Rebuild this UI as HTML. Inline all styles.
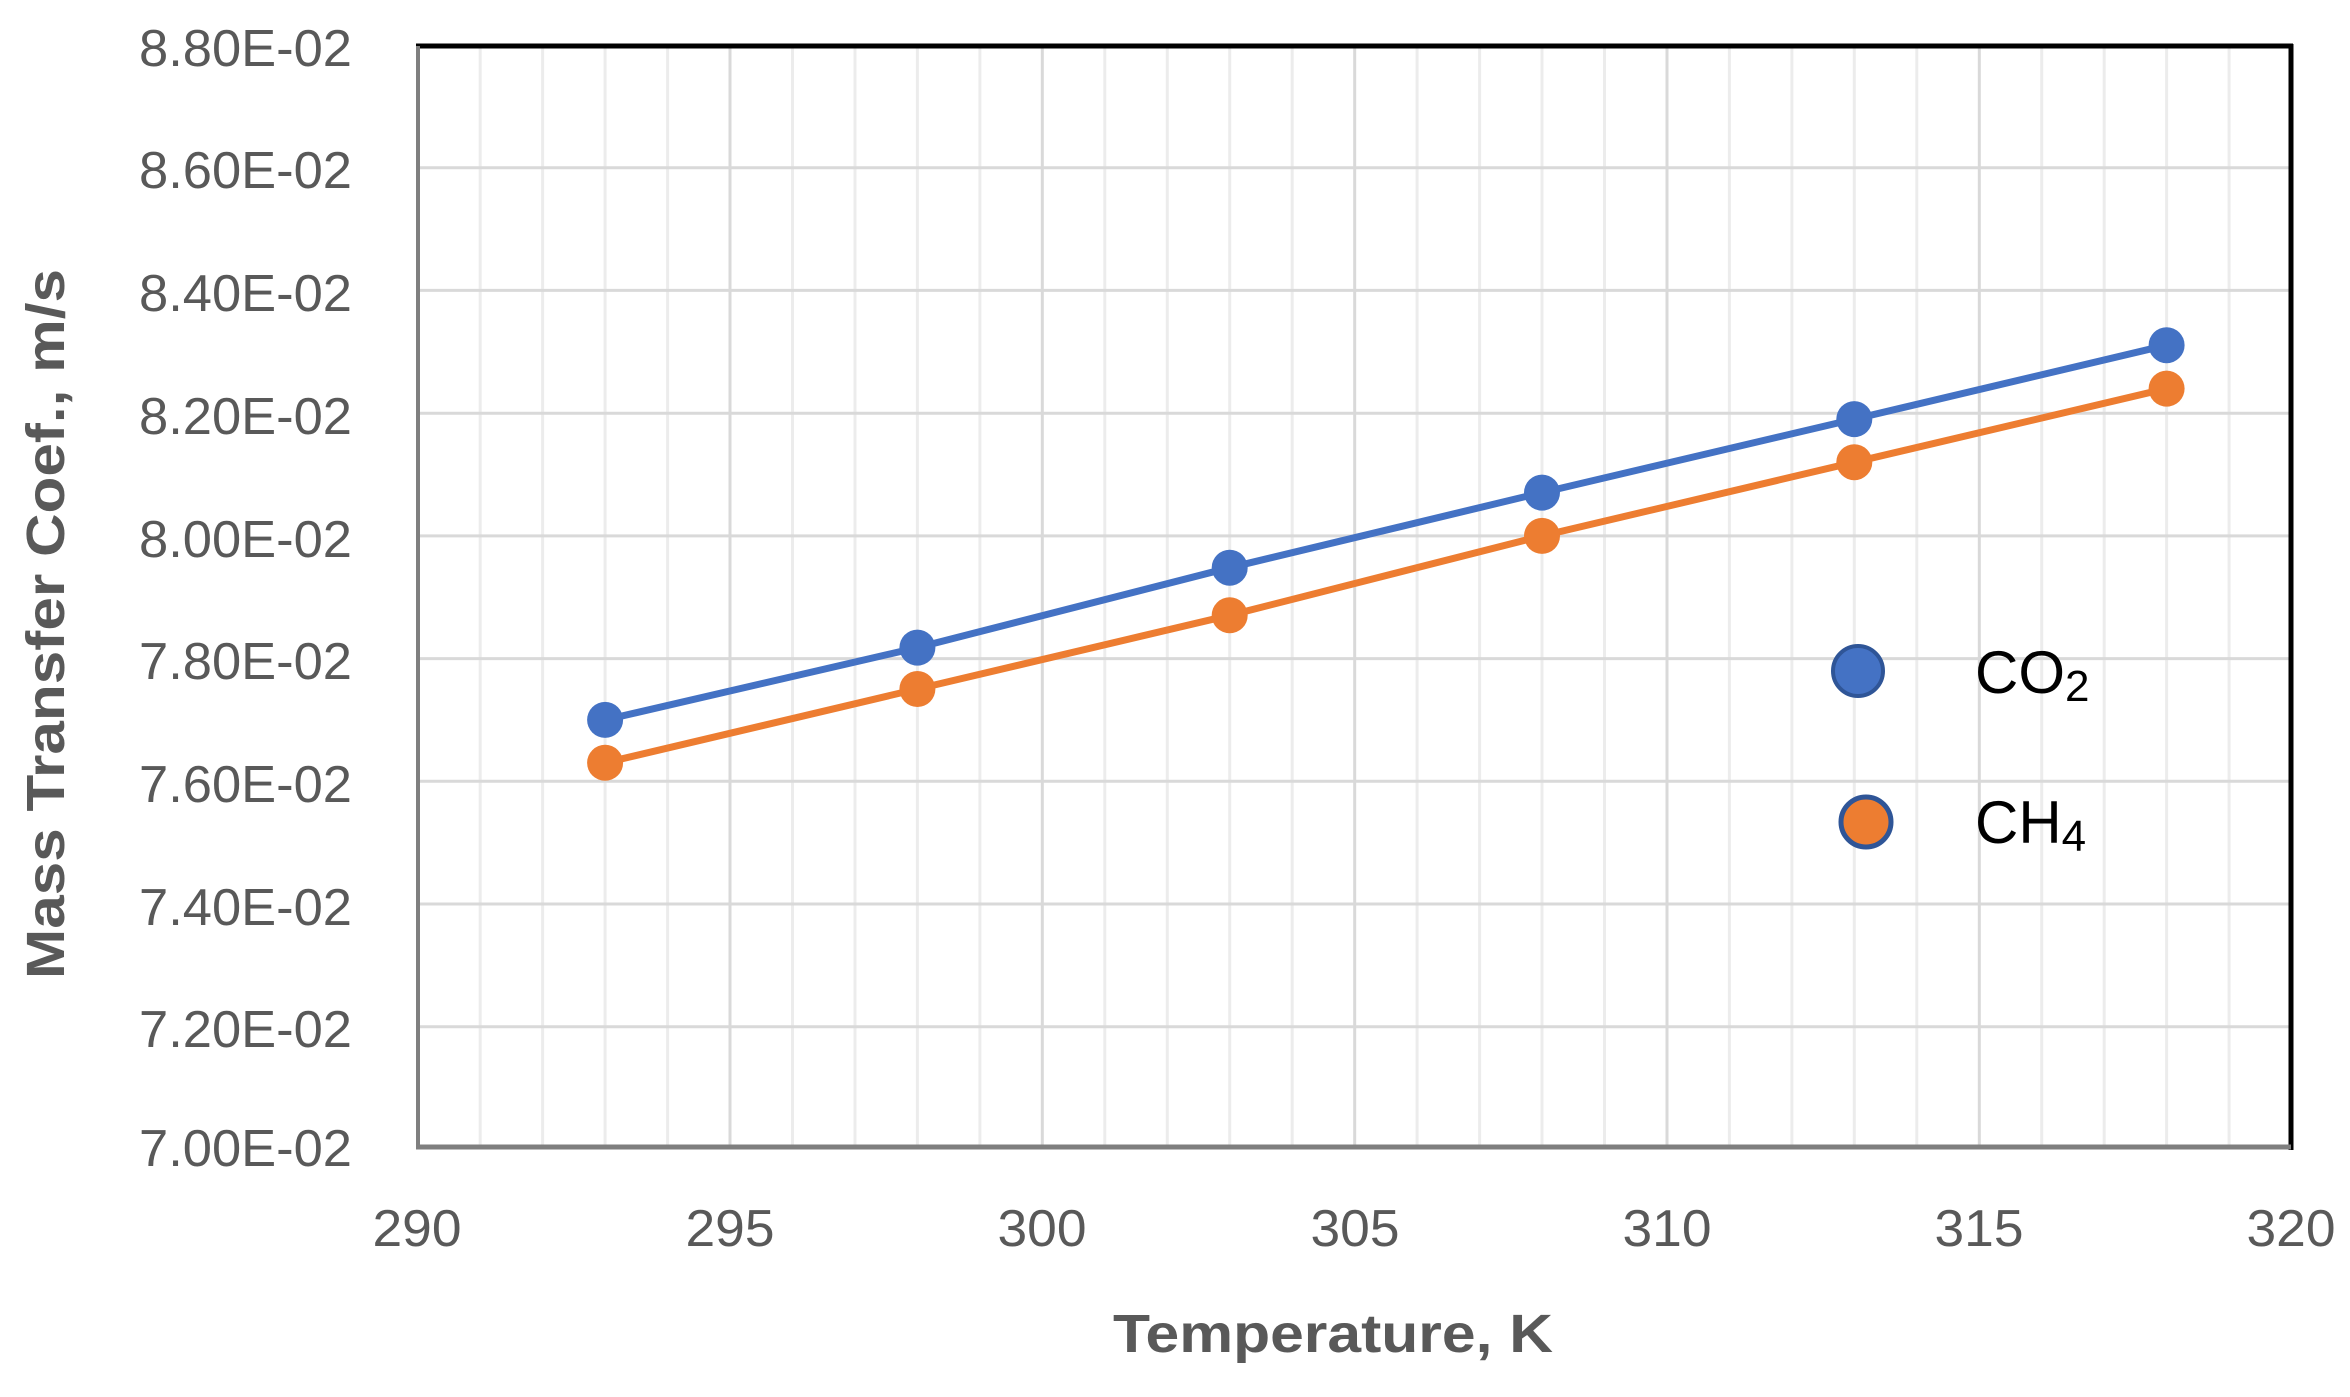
<!DOCTYPE html>
<html><head><meta charset="utf-8"><style>
html,body{margin:0;padding:0;background:#fff;}
svg{display:block;}
text{font-family:"Liberation Sans",sans-serif;}
</style></head><body>
<svg width="2350" height="1397" viewBox="0 0 2350 1397" xmlns="http://www.w3.org/2000/svg">
<rect width="2350" height="1397" fill="#fff"/>
<g id="grid">
<g stroke="#ececec" stroke-width="3">
<line x1="480.2" y1="45" x2="480.2" y2="1147"/><line x1="542.6" y1="45" x2="542.6" y2="1147"/><line x1="605.1" y1="45" x2="605.1" y2="1147"/><line x1="667.6" y1="45" x2="667.6" y2="1147"/>
<line x1="792.5" y1="45" x2="792.5" y2="1147"/><line x1="855" y1="45" x2="855" y2="1147"/><line x1="917.4" y1="45" x2="917.4" y2="1147"/><line x1="979.9" y1="45" x2="979.9" y2="1147"/>
<line x1="1104.8" y1="45" x2="1104.8" y2="1147"/><line x1="1167.3" y1="45" x2="1167.3" y2="1147"/><line x1="1229.7" y1="45" x2="1229.7" y2="1147"/><line x1="1292.2" y1="45" x2="1292.2" y2="1147"/>
<line x1="1417.1" y1="45" x2="1417.1" y2="1147"/><line x1="1479.6" y1="45" x2="1479.6" y2="1147"/><line x1="1542" y1="45" x2="1542" y2="1147"/><line x1="1604.5" y1="45" x2="1604.5" y2="1147"/>
<line x1="1729.4" y1="45" x2="1729.4" y2="1147"/><line x1="1791.9" y1="45" x2="1791.9" y2="1147"/><line x1="1854.3" y1="45" x2="1854.3" y2="1147"/><line x1="1916.8" y1="45" x2="1916.8" y2="1147"/>
<line x1="2041.7" y1="45" x2="2041.7" y2="1147"/><line x1="2104.2" y1="45" x2="2104.2" y2="1147"/><line x1="2166.6" y1="45" x2="2166.6" y2="1147"/><line x1="2229.1" y1="45" x2="2229.1" y2="1147"/>
</g>
<g stroke="#d9d9d9" stroke-width="3">
<line x1="730" y1="45" x2="730" y2="1147"/><line x1="1042.3" y1="45" x2="1042.3" y2="1147"/><line x1="1354.7" y1="45" x2="1354.7" y2="1147"/><line x1="1667" y1="45" x2="1667" y2="1147"/><line x1="1979.3" y1="45" x2="1979.3" y2="1147"/>
<line x1="418" y1="167.7" x2="2290" y2="167.7"/><line x1="418" y1="290.4" x2="2290" y2="290.4"/><line x1="418" y1="413.2" x2="2290" y2="413.2"/><line x1="418" y1="535.9" x2="2290" y2="535.9"/>
<line x1="418" y1="658.6" x2="2290" y2="658.6"/><line x1="418" y1="781.3" x2="2290" y2="781.3"/><line x1="418" y1="904" x2="2290" y2="904"/><line x1="418" y1="1026.8" x2="2290" y2="1026.8"/>
</g>
</g>
<line x1="416" y1="46" x2="2293" y2="46" stroke="#000" stroke-width="5"/>
<line x1="2291" y1="44" x2="2291" y2="1150" stroke="#000" stroke-width="5"/>
<line x1="418" y1="46" x2="418" y2="1148" stroke="#7f7f7f" stroke-width="4"/>
<line x1="416" y1="1147" x2="2291" y2="1147" stroke="#7f7f7f" stroke-width="5"/>

<polyline fill="none" stroke="#4472c4" stroke-width="7" points="605.1,719.9 917.4,647.6 1229.7,567.7 1542,492.6 1854.3,419.1 2166.6,345.2"/>
<polyline fill="none" stroke="#ed7d31" stroke-width="7" points="605.1,762.8 917.4,689 1229.7,615.3 1542,535.9 1854.3,462.2 2166.6,388.6"/>
<g fill="#4472c4">
<circle cx="605.1" cy="719.9" r="18"/><circle cx="917.4" cy="647.6" r="18"/><circle cx="1229.7" cy="567.7" r="18"/><circle cx="1542" cy="492.6" r="18"/><circle cx="1854.3" cy="419.1" r="18"/><circle cx="2166.6" cy="345.2" r="18"/>
</g>
<g fill="#ed7d31">
<circle cx="605.1" cy="762.8" r="18"/><circle cx="917.4" cy="689" r="18"/><circle cx="1229.7" cy="615.3" r="18"/><circle cx="1542" cy="535.9" r="18"/><circle cx="1854.3" cy="462.2" r="18"/><circle cx="2166.6" cy="388.6" r="18"/>
</g>

<g fill="#595959" font-size="52" text-anchor="end">
<text x="352" y="66" textLength="213" lengthAdjust="spacingAndGlyphs">8.80E-02</text>
<text x="352" y="188" textLength="213" lengthAdjust="spacingAndGlyphs">8.60E-02</text>
<text x="352" y="311" textLength="213" lengthAdjust="spacingAndGlyphs">8.40E-02</text>
<text x="352" y="434" textLength="213" lengthAdjust="spacingAndGlyphs">8.20E-02</text>
<text x="352" y="557" textLength="213" lengthAdjust="spacingAndGlyphs">8.00E-02</text>
<text x="352" y="679" textLength="213" lengthAdjust="spacingAndGlyphs">7.80E-02</text>
<text x="352" y="802" textLength="213" lengthAdjust="spacingAndGlyphs">7.60E-02</text>
<text x="352" y="925" textLength="213" lengthAdjust="spacingAndGlyphs">7.40E-02</text>
<text x="352" y="1047" textLength="213" lengthAdjust="spacingAndGlyphs">7.20E-02</text>
<text x="352" y="1166" textLength="213" lengthAdjust="spacingAndGlyphs">7.00E-02</text>
</g>
<g fill="#595959" font-size="52" text-anchor="middle">
<text x="417" y="1246" textLength="89" lengthAdjust="spacingAndGlyphs">290</text>
<text x="730" y="1246" textLength="89" lengthAdjust="spacingAndGlyphs">295</text>
<text x="1042" y="1246" textLength="89" lengthAdjust="spacingAndGlyphs">300</text>
<text x="1355" y="1246" textLength="89" lengthAdjust="spacingAndGlyphs">305</text>
<text x="1667" y="1246" textLength="89" lengthAdjust="spacingAndGlyphs">310</text>
<text x="1979" y="1246" textLength="89" lengthAdjust="spacingAndGlyphs">315</text>
<text x="2291" y="1246" textLength="89" lengthAdjust="spacingAndGlyphs">320</text>
</g>
<text x="1333" y="1352" fill="#595959" font-size="54" font-weight="bold" text-anchor="middle" textLength="440" lengthAdjust="spacingAndGlyphs">Temperature, K</text>
<text transform="translate(64,624) rotate(-90)" fill="#595959" font-size="54" font-weight="bold" text-anchor="middle" textLength="710" lengthAdjust="spacingAndGlyphs">Mass Transfer Coef., m/s</text>

<circle cx="1858" cy="671" r="25" fill="#4472c4" stroke="#2f5597" stroke-width="4"/>
<circle cx="1866" cy="822" r="25" fill="#ed7d31" stroke="#2f5597" stroke-width="5"/>
<text x="1975" y="693" font-size="60" fill="#000">CO<tspan font-size="44" dy="8">2</tspan></text>
<text x="1975" y="843" font-size="60" fill="#000">CH<tspan font-size="44" dy="8">4</tspan></text>
</svg>
</body></html>
